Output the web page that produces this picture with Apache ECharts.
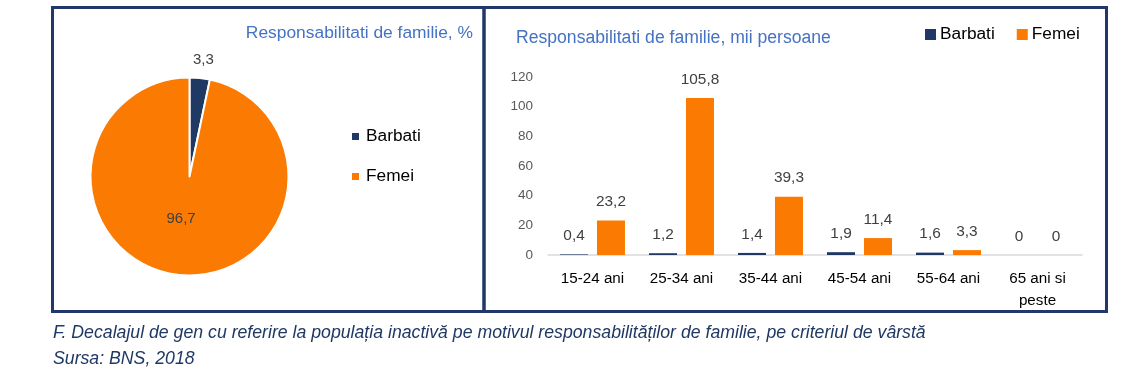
<!DOCTYPE html>
<html><head><meta charset="utf-8">
<script src="https://cdn.jsdelivr.net/npm/echarts@6/dist/echarts.min.js"></script>
<style>html,body{margin:0;padding:0;background:#fff}#c{width:1121px;height:387px}</style>
</head><body><div id="c"></div>
<script>
const pieNames = ['Barbati', 'Femei'];
const pieValues = [3.3, 96.7];
const categories = ['15-24 ani', '25-34 ani', '35-44 ani', '45-54 ani', '55-64 ani', '65 ani si\npeste'];
const barbati = [0.4, 1.2, 1.4, 1.9, 1.6, 0];
const femei = [23.2, 105.8, 39.3, 11.4, 3.3, 0];
const yTicks = [0, 20, 40, 60, 80, 100, 120];
const titleLeft = 'Responsabilitati de familie, %';
const titleRight = 'Responsabilitati de familie, mii persoane';
const caption1 = 'F. Decalajul de gen cu referire la populația inactivă pe motivul responsabilităților de familie, pe criteriul de vârstă';
const caption2 = 'Sursa: BNS, 2018';

const NAVY = '#1f3864', ORANGE = '#fb7b02', FONT = 'Liberation Sans', BORDER = '#22386a';
const fmt = v => String(v).replace('.', ',');
const chart = echarts.init(document.getElementById('c'));
chart.setOption({
  animation: false,
  textStyle: {fontFamily: FONT},
  graphic: [
    {type: 'rect', shape: {x: 52.5, y: 7.5, width: 431.5, height: 304}, style: {fill: 'none', stroke: BORDER, lineWidth: 3}},
    {type: 'rect', shape: {x: 484, y: 7.5, width: 622.5, height: 304}, style: {fill: 'none', stroke: BORDER, lineWidth: 3}},
    {type: 'text', right: 1121 - 473, top: 25, style: {text: titleLeft, fill: '#4472c4', font: '17.4px ' + FONT}},
    {type: 'text', left: 516, top: 29, style: {text: titleRight, fill: '#4472c4', font: '17.6px ' + FONT}},
    {type: 'text', left: 53, top: 324, style: {text: caption1, fill: NAVY, font: 'italic 17.7px ' + FONT}},
    {type: 'text', left: 53, top: 350, style: {text: caption2, fill: NAVY, font: 'italic 17.7px ' + FONT}}
  ],
  legend: [
    {data: pieNames, orient: 'vertical', left: 347, top: 123, itemWidth: 7, itemHeight: 7, itemGap: 23, icon: 'rect',
     textStyle: {fontSize: 17.3, color: '#000', padding: [0, 0, 0, 2]}},
    {data: pieNames, orient: 'horizontal', left: 920, top: 21, itemWidth: 11, itemHeight: 11, itemGap: 22, icon: 'rect',
     textStyle: {fontSize: 17.3, color: '#000', padding: [0, 0, 0, -1]}}
  ],
  grid: {left: 548, right: 39, top: 77, bottom: 132},
  xAxis: {type: 'category', data: categories, axisTick: {show: false},
    axisLine: {lineStyle: {color: '#d9d9d9', width: 1.5}},
    axisLabel: {color: '#000', fontSize: 15.2, margin: 13, lineHeight: 22, interval: 0}},
  yAxis: {type: 'value', min: 0, max: 120, interval: 20, splitLine: {show: false},
    axisLabel: {color: '#595959', fontSize: 13.5, margin: 15, formatter: v => yTicks.includes(v) ? String(v) : ''}},
  series: [
    {type: 'pie', center: [189.5, 176.5], radius: 99, startAngle: 90, clockwise: true,
     itemStyle: {borderColor: '#fff', borderWidth: 2},
     data: pieNames.map((n, i) => ({name: n, value: pieValues[i], itemStyle: {color: i === 0 ? NAVY : ORANGE},
       label: i === 0 ? {position: 'outside', offset: [-12, -16]} : {position: 'inside', offset: [-3, -10]},
       labelLine: {show: false}})),
     label: {formatter: p => fmt(p.value), color: '#404040', fontSize: 15},
     labelLine: {show: false, length: 2, length2: 0}},
    {type: 'bar', name: 'Barbati', data: barbati, barWidth: 28, barGap: '32%', itemStyle: {color: NAVY},
     label: {show: true, position: 'top', distance: 11, color: '#404040', fontSize: 15.4, formatter: p => fmt(p.value)}},
    {type: 'bar', name: 'Femei', data: femei, barWidth: 28, itemStyle: {color: ORANGE},
     label: {show: true, position: 'top', distance: 11, color: '#404040', fontSize: 15.4, formatter: p => fmt(p.value)}}
  ]
});
</script></body></html>
